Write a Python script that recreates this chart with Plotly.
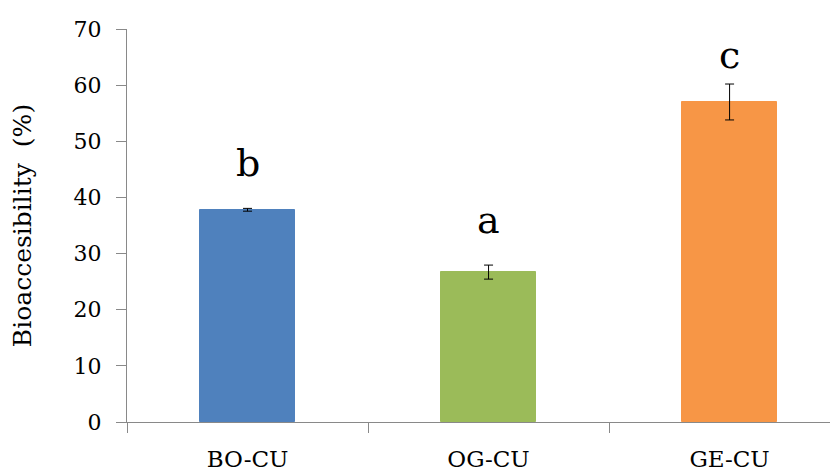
import plotly.graph_objects as go

categories = ["BO-CU", "OG-CU", "GE-CU"]
values = [37.8, 26.7, 57.0]
errors = [0.25, 1.25, 3.2]
letters = ["b", "a", "c"]
colors = ["#4F81BD", "#9BBB59", "#F79646"]
y_ticks = [0, 10, 20, 30, 40, 50, 60, 70]

axis_gray = "#898989"
font_family = "DejaVu Serif"

fig = go.Figure()
fig.add_trace(go.Bar(
    x=categories,
    y=values,
    width=0.395,
    marker=dict(color=colors, line=dict(color=colors, width=1)),
    error_y=dict(type="data", array=errors, visible=True,
                 color="#000000", thickness=1, width=4.5),
    showlegend=False,
))

letter_shift = [21, 21, 5]
for cat, v, e, lab, s in zip(categories, values, errors, letters, letter_shift):
    fig.add_annotation(x=cat, y=v + e, text=lab, showarrow=False,
                       yanchor="bottom", yshift=s,
                       font=dict(family=font_family, size=38, color="#000000"))

fig.update_layout(
    width=838, height=470,
    margin=dict(l=119, r=0, t=21, b=56),
    plot_bgcolor="white", paper_bgcolor="white",
    bargap=0,
    xaxis=dict(
        type="category",
        range=[-0.5, 2.483],
        automargin=False,
        showline=True, linecolor=axis_gray, linewidth=1,
        ticks="outside", tickson="boundaries", ticklen=10, tickcolor=axis_gray,
        showgrid=False, zeroline=False,
        tickfont=dict(family=font_family, size=23, color="#000000"),
        ticklabelstandoff=16,
    ),
    yaxis=dict(
        range=[0, 70],
        tickvals=y_ticks,
        automargin=False,
        showline=True, linecolor=axis_gray, linewidth=1,
        ticks="outside", ticklen=10, tickcolor=axis_gray,
        showgrid=False, zeroline=False,
        tickfont=dict(family=font_family, size=22, color="#000000"),
        ticklabelstandoff=10,
        title=dict(text="Bioaccesibility  (%)", standoff=35,
                   font=dict(family=font_family, size=25, color="#000000")),
    ),
)

fig.write_html("out.html")
